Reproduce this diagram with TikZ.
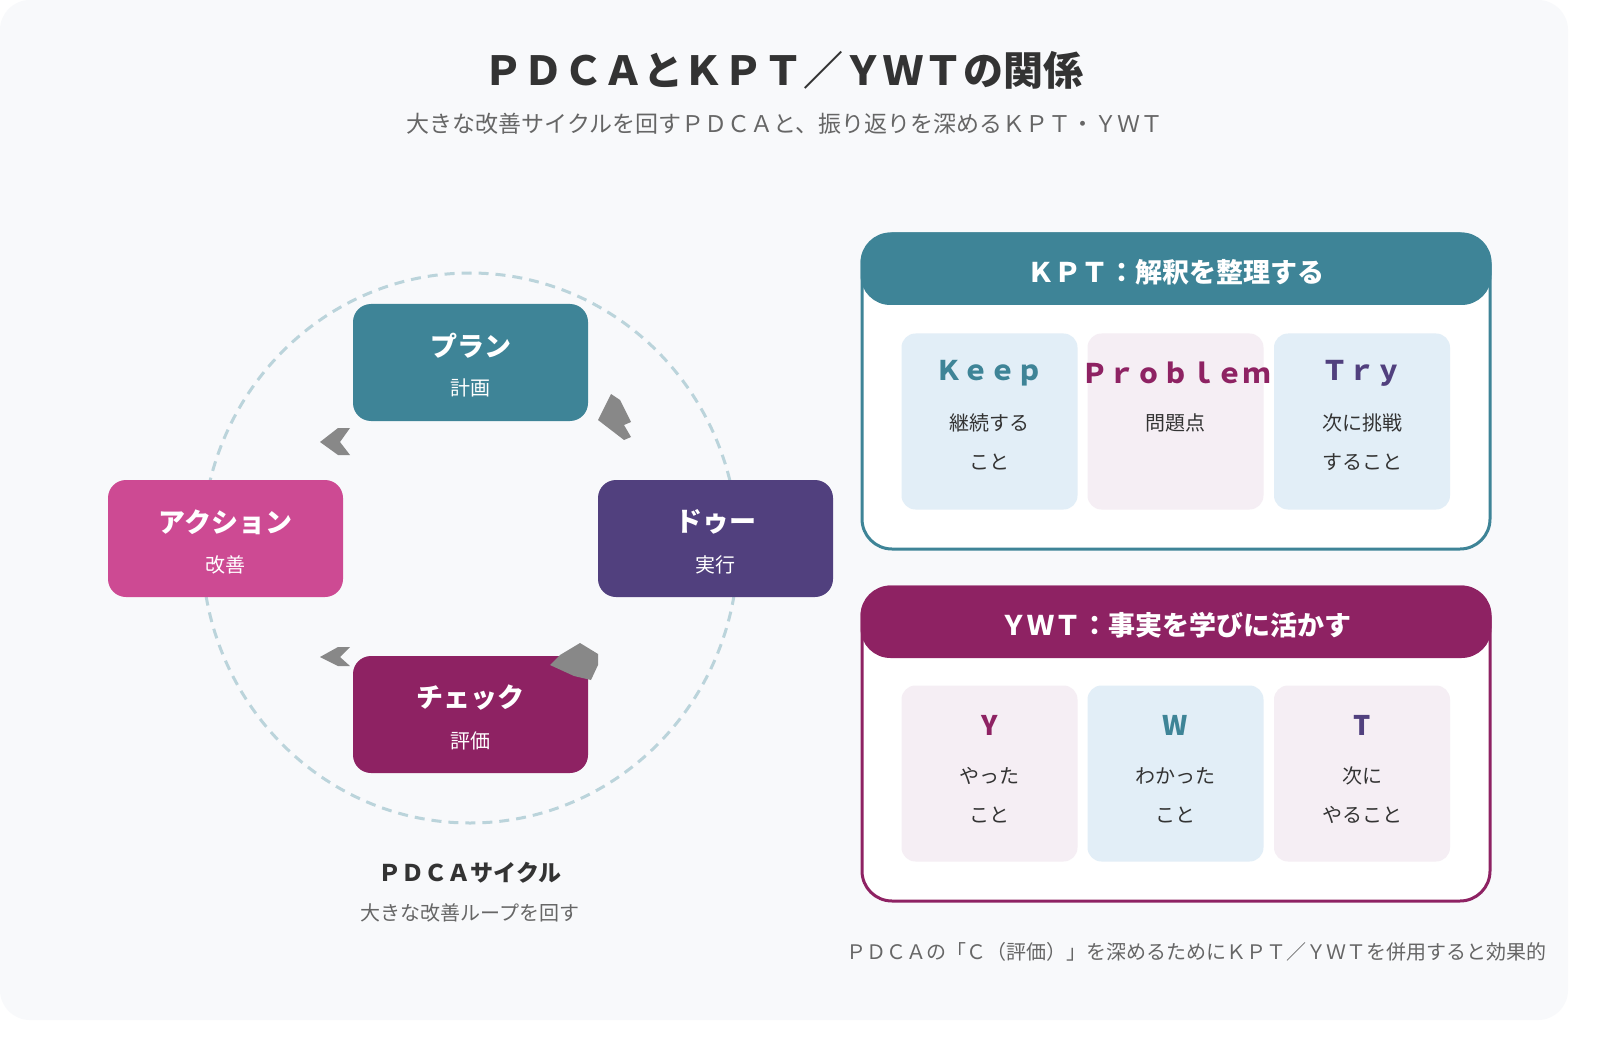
\documentclass[tikz,border=0pt]{standalone}
\usepackage{fontspec}
\setmainfont{Noto Sans CJK JP}
\usetikzlibrary{shapes.geometric}
\definecolor{bg}{HTML}{F8F9FB}
\definecolor{teal}{HTML}{3E8497}
\definecolor{purp}{HTML}{51407E}
\definecolor{wine}{HTML}{8E2263}
\definecolor{pink}{HTML}{CD4A93}
\definecolor{lblue}{HTML}{E2EEF7}
\definecolor{lpink}{HTML}{F5EEF4}
\definecolor{dark}{HTML}{333333}
\definecolor{mid}{HTML}{666666}
\definecolor{arr}{HTML}{888888}
\tikzset{
 box/.style={rounded corners=18pt,minimum width=235pt,minimum height=117pt,inner sep=0pt},
 big/.style={font=\fontsize{27}{30}\selectfont\bfseries,text=white},
 small/.style={font=\fontsize{20}{24}\selectfont,text=white},
 card/.style={rounded corners=14pt,minimum width=176pt,minimum height=176pt,inner sep=0pt},
 ctitle/.style={font=\fontsize{27}{30}\selectfont\bfseries},
 ctext/.style={font=\fontsize{20}{24}\selectfont,text=dark},
}
\begin{document}
\begin{tikzpicture}[x=1pt,y=-1pt]
\fill[white] (0,0) rectangle (1600,1040);
\fill[bg,rounded corners=30pt] (0,0) rectangle (1568,1020);
\node (title) at (783,70) [font=\fontsize{40}{44}\selectfont\bfseries,text=dark] {ＰＤＣＡとＫＰＴ／ＹＷＴの関係};
\node (sub) at (785,124) [font=\fontsize{23}{26}\selectfont,text=mid] {大きな改善サイクルを回すＰＤＣＡと、振り返りを深めるＫＰＴ・ＹＷＴ};
% cycle
\node (ring) at (470,548) [draw=teal!35,line width=3pt,dash pattern=on 10pt off 7pt,ellipse,minimum width=536pt,minimum height=550pt] {};
\node (plan) at (470.5,362.5) [box,fill=teal] {};
\node at (470.5,346) [big] {プラン}; \node at (470.5,388) [small] {計画};
\node (do) at (715.5,538.5) [box,fill=purp] {};
\node at (715.5,522) [big] {ドゥー}; \node at (715.5,565) [small] {実行};
\node (check) at (470.5,714.5) [box,fill=wine] {};
\node at (470.5,698) [big] {チェック}; \node at (470.5,741) [small] {評価};
\node (act) at (225.5,538.5) [box,fill=pink] {};
\node at (225.5,522) [big] {アクション}; \node at (225.5,565) [small] {改善};
% arrow fragments
\fill[arr] (350,428) -- (338,428) -- (320,442) -- (338,455) -- (350,455) -- (340,442) -- cycle;
\fill[arr] (350,647) -- (338,647) -- (320,657) -- (338,666) -- (350,666) -- (340,657) -- cycle;
\fill[arr] (620,400) -- (611,394) -- (598,420) -- (624,440) -- (631,437) -- (624,425) -- (631,422) -- cycle;
\fill[arr] (580,643) -- (560,655) -- (550,665) -- (574,676) -- (591,680) -- (598,665) -- (598,654) -- cycle;
\node (pdca) at (470,873) [font=\fontsize{23}{26}\selectfont\bfseries,text=dark] {ＰＤＣＡサイクル};
\node (pdcas) at (470,913) [font=\fontsize{20}{24}\selectfont,text=mid] {大きな改善ループを回す};
% KPT
\draw[teal,line width=3pt,fill=white,rounded corners=30pt] (862,234) rectangle (1490,549);
\fill[teal,rounded corners=30pt] (860.5,232.5) rectangle (1491.5,305);
\node (kpth) at (1176,272) [font=\fontsize{27}{30}\selectfont\bfseries,text=white] {ＫＰＴ：解釈を整理する};
\node (k) at (989.5,421.5) [card,fill=lblue] {};
\node (p) at (1175.5,421.5) [card,fill=lpink] {};
\node (t) at (1362,421.5) [card,fill=lblue] {};
\node at (989.5,373) [ctitle,text=teal] {Ｋｅｅｐ};
\node at (1175.5,373) [ctitle,text=wine] {Ｐｒｏｂｌｅｍ};
\node at (1362,373) [ctitle,text=purp] {Ｔｒｙ};
\node at (989.5,423) [ctext] {継続する}; \node at (989.5,462) [ctext] {こと};
\node at (1175.5,423) [ctext] {問題点};
\node at (1362,423) [ctext] {次に挑戦}; \node at (1362,462) [ctext] {すること};
% YWT
\draw[wine,line width=3pt,fill=white,rounded corners=30pt] (862,587) rectangle (1490,901);
\fill[wine,rounded corners=30pt] (860.5,585.5) rectangle (1491.5,658);
\node (ywth) at (1176,625) [font=\fontsize{27}{30}\selectfont\bfseries,text=white] {ＹＷＴ：事実を学びに活かす};
\node (y) at (989.5,773.5) [card,fill=lpink] {};
\node (w) at (1175.5,773.5) [card,fill=lblue] {};
\node (tt) at (1362,773.5) [card,fill=lpink] {};
\node at (989.5,725) [ctitle,text=wine] {Y};
\node at (1175.5,725) [ctitle,text=teal] {W};
\node at (1362,725) [ctitle,text=purp] {T};
\node at (989.5,776) [ctext] {やった}; \node at (989.5,815) [ctext] {こと};
\node at (1175.5,776) [ctext] {わかった}; \node at (1175.5,815) [ctext] {こと};
\node at (1362,776) [ctext] {次に}; \node at (1362,815) [ctext] {やること};
\node (foot) at (1550,952) [anchor=east,font=\fontsize{20}{24}\selectfont,text=mid] {ＰＤＣＡの「Ｃ（評価）」を深めるためにＫＰＴ／ＹＷＴを併用すると効果的};
\pgfresetboundingbox
\useasboundingbox (0,0) rectangle (1600,1040);
\end{tikzpicture}
\end{document}
